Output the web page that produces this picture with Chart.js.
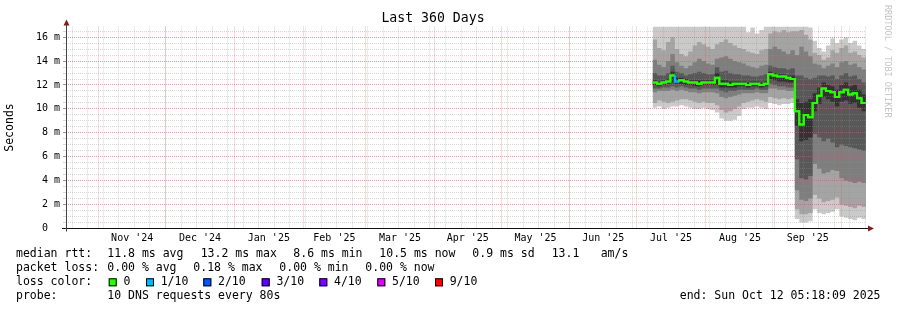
<!DOCTYPE html>
<html>
<head>
<meta charset="utf-8">
<title>Last 360 Days</title>
<script src="https://cdn.jsdelivr.net/npm/chart.js@4.4.1/dist/chart.umd.min.js"></script>
<style>
  html, body { margin: 0; padding: 0; background: #fff; }
  #wrap { position: relative; width: 897px; height: 310px; }
</style>
</head>
<body>
<div id="wrap"><canvas id="smokeChart" width="897" height="310"></canvas></div>
<script>
// x unit: days since 1 Nov 2024 00:00 (graph runs 17 Oct 2024 05:18 -> 12 Oct 2025 05:18)
const xMin = -14.78;
const xMax = 345.22;

const monthStarts = [0, 30, 61, 92, 120, 151, 181, 212, 242, 273, 304, 334];
const monthMids = [15, 45.5, 76.5, 106, 135.5, 166, 196.5, 227, 257.5, 288.5, 319];
const monthLabels = ["Nov '24", "Dec '24", "Jan '25", "Feb '25", "Mar '25", "Apr '25",
                     "May '25", "Jun '25", "Jul '25", "Aug '25", "Sep '25"];

const yMax = 16.89;
const yTickValues = [0, 2, 4, 6, 8, 10, 12, 14, 16];
const yTickLabels = ['0  ', '2 m', '4 m', '6 m', '8 m', '10 m', '12 m', '14 m', '16 m'];

// sample times (2-day steps)
const days = [249.2, 251.2, 253.2, 255.2, 257.2, 259.2, 261.2, 263.2, 265.2, 267.2,
              269.2, 271.2, 273.2, 275.2, 277.2, 279.2, 281.2, 283.2, 285.2, 287.2,
              289.2, 291.2, 293.2, 295.2, 297.2, 299.2, 301.2, 303.2, 305.2, 307.2,
              309.2, 311.2, 313.2, 315.2, 317.2, 319.2, 321.2, 323.2, 325.2, 327.2,
              329.2, 331.2, 333.2, 335.2, 337.2, 339.2, 341.2, 343.2, 345.2];

// sorted ping times in ms (10 pings per step), lowest .. highest
const pingMin = [10.0, 10.1, 10.2, 10.0, 10.1, 10.2, 10.2, 10.3, 10.2, 10.1, 10.0, 10.0, 10.1, 10.0, 9.9, 9.7, 9.2,
                 9.0, 9.0, 9.1, 9.4, 10.0, 10.1, 10.1, 10.2, 10.1, 10.0, 10.5, 10.4, 10.3, 10.4, 10.4, 10.5,
                 0.8, 0.5, 0.5, 0.6, 1.6, 1.3, 1.2, 1.3, 1.4, 1.6, 1.0, 0.9, 0.8, 0.7, 0.9, 0.8];
const ping2 = [10.4, 10.5, 10.7, 10.6, 10.5, 10.6, 10.7, 10.8, 10.8, 10.7, 10.6, 10.5, 10.6, 10.5, 10.5, 10.3, 9.9,
               9.7, 9.8, 10.0, 10.2, 10.5, 10.6, 10.7, 10.8, 10.7, 10.6, 11.0, 10.9, 10.8, 10.9, 10.8, 10.9,
               1.6, 1.2, 1.2, 1.3, 2.8, 2.5, 2.2, 2.3, 2.4, 2.6, 2.0, 1.9, 1.8, 1.7, 1.9, 1.8];
const ping3 = [11.5, 11.4, 11.5, 11.5, 11.5, 11.6, 11.5, 11.6, 11.5, 11.4, 11.4, 11.3, 11.4, 11.4, 11.4, 11.3, 11.0,
               10.9, 11.0, 11.1, 11.2, 11.3, 11.3, 11.3, 11.4, 11.3, 11.3, 11.7, 11.7, 11.6, 11.6, 11.5, 11.5,
               3.2, 2.4, 2.3, 2.5, 5.4, 5.0, 4.6, 4.7, 4.9, 4.8, 4.2, 4.0, 3.9, 3.8, 3.9, 3.8];
const ping4 = [11.8, 11.7, 11.7, 11.8, 11.8, 11.9, 11.8, 11.9, 11.8, 11.7, 11.7, 11.6, 11.7, 11.7, 11.7, 11.7, 11.5,
               11.4, 11.5, 11.5, 11.6, 11.6, 11.6, 11.6, 11.7, 11.6, 11.6, 12.1, 12.0, 11.9, 11.9, 11.8, 11.8,
               5.8, 4.2, 4.1, 4.4, 7.9, 7.6, 7.3, 7.5, 7.2, 6.8, 7.0, 6.9, 6.8, 6.7, 6.6, 6.5];
const ping5 = [12.0, 12.0, 11.9, 12.0, 12.1, 12.2, 12.1, 12.1, 12.0, 12.0, 11.9, 11.9, 12.0, 12.0, 12.0, 12.0, 11.8,
               11.8, 11.8, 11.8, 11.9, 11.9, 11.8, 11.9, 11.9, 11.8, 11.9, 12.5, 12.4, 12.3, 12.3, 12.2, 12.2,
               8.6, 7.3, 7.4, 7.6, 9.8, 10.4, 11.0, 10.8, 10.6, 10.2, 10.6, 10.7, 10.4, 10.5, 10.1, 9.8];
const ping6 = [12.4, 12.4, 12.3, 12.4, 12.5, 13.1, 12.6, 12.6, 12.5, 12.4, 12.4, 12.4, 12.4, 12.4, 12.4, 13.0, 12.4,
               12.4, 12.3, 12.3, 12.3, 12.3, 12.2, 12.3, 12.3, 12.2, 12.3, 13.1, 13.0, 12.9, 12.9, 12.8, 12.8,
               10.8, 10.5, 10.6, 10.8, 11.3, 11.8, 12.2, 12.0, 11.9, 11.6, 12.0, 12.2, 11.9, 12.0, 11.6, 11.2];
const ping7 = [12.9, 13.0, 12.8, 12.8, 13.0, 13.6, 13.1, 13.0, 12.8, 12.9, 13.0, 13.1, 13.0, 12.9, 12.9, 13.5, 13.1,
               13.2, 13.0, 12.9, 12.9, 12.8, 12.8, 12.7, 12.7, 12.8, 12.9, 13.6, 13.5, 13.4, 13.4, 13.3, 13.4,
               12.8, 12.8, 12.6, 12.5, 12.6, 12.8, 12.8, 12.7, 12.8, 12.5, 12.8, 13.0, 12.7, 12.8, 12.5, 12.2];
const ping8 = [14.4, 14.1, 13.7, 13.5, 14.0, 14.6, 13.9, 13.6, 13.4, 13.6, 13.9, 14.2, 14.0, 13.8, 13.7, 14.2, 14.3,
               14.4, 14.2, 14.0, 13.9, 13.8, 13.6, 13.5, 13.4, 13.6, 13.7, 15.0, 15.2, 15.0, 14.8, 14.6, 14.9,
               14.5, 15.2, 14.8, 14.4, 13.8, 13.7, 13.4, 13.6, 13.8, 13.5, 13.9, 14.0, 13.7, 13.8, 13.5, 13.3];
const ping9 = [16.2, 15.8, 15.1, 14.9, 15.6, 16.0, 15.0, 14.6, 14.4, 14.8, 15.3, 15.6, 15.4, 15.2, 15.0, 15.4, 15.6,
               15.8, 15.5, 15.3, 15.1, 15.0, 14.8, 14.7, 14.6, 14.9, 15.0, 16.3, 16.5, 16.4, 16.6, 16.4, 16.5,
               16.5, 16.6, 16.2, 15.8, 14.7, 14.5, 14.1, 14.3, 14.9, 14.7, 15.1, 15.3, 14.7, 14.8, 14.5, 14.3];
const pingMax = [17.5, 17.5, 17.5, 17.5, 17.5, 17.5, 17.5, 17.5, 17.5, 17.5, 17.5, 17.5, 17.5, 17.5, 17.5, 17.5, 17.5,
                 17.5, 17.2, 17.5, 17.5, 17.0, 16.4, 16.8, 16.3, 16.6, 17.0, 17.5, 17.5, 17.5, 17.5, 17.5, 17.5,
                 17.5, 17.5, 17.5, 16.8, 15.7, 15.1, 14.8, 15.3, 15.9, 15.5, 15.8, 16.0, 15.5, 15.7, 15.3, 15.0];
const medianRtt = [12.2, 12.2, 12.1, 12.2, 12.3, 12.8, 12.3, 12.4, 12.3, 12.2, 12.2, 12.1, 12.2, 12.2, 12.2, 12.6, 12.1,
                   12.1, 12.0, 12.1, 12.1, 12.1, 12.0, 12.1, 12.1, 12.0, 12.1, 12.9, 12.8, 12.7, 12.7, 12.6, 12.5,
                   9.8, 8.7, 9.5, 9.3, 10.5, 11.1, 11.7, 11.5, 11.4, 11.0, 11.4, 11.6, 11.2, 11.3, 10.9, 10.5];
// lost pings out of 10 per step
const lossTenths = [0, 0, 0, 0, 0, 1, 0, 0, 0, 0, 0, 0, 0, 0, 0, 0, 0, 0, 0, 0, 0, 0, 0, 0, 0, 0, 0, 0, 0, 0, 0, 0, 0,
                    0, 0, 0, 0, 0, 0, 0, 0, 0, 0, 0, 0, 0, 0, 0, 0];

const lossSteps = [0, 1, 2, 3, 4, 5, 9];
const lossLabels = ['0', '1/10', '2/10', '3/10', '4/10', '5/10', '9/10'];
const lossColors = ['#26ff00', '#00b8ff', '#0059ff', '#5e00ff', '#7e00ff', '#dd00ff', '#ff0000'];

const rttStatNames = ['avg', 'max', 'min', 'now', 'sd'];
const rttStatValues = [11.8, 13.2, 8.6, 10.5, 0.9];
const amsValue = 13.1;
const lossStatNames = ['avg', 'max', 'min', 'now'];
const lossStatValues = [0.00, 0.18, 0.00, 0.00];
const probeText = '10 DNS requests every 80s';
const endText = 'end: Sun Oct 12 05:18:09 2025';

const mono = '"DejaVu Sans Mono", "Liberation Mono", monospace';
Chart.defaults.font.family = mono;

// smoke shades, outer (widest) band first
const bandShades = ['#cacaca', '#a4a4a4', '#7e7e7e', '#585858', '#323232'];
const bandPairs = [[pingMin, pingMax], [ping2, ping9], [ping3, ping8], [ping4, ping7], [ping5, ping6]];

function points(values) {
    return days.map((d, i) => ({ x: d, y: values[i] }));
}

const datasets = [];
bandPairs.forEach(([low, high], k) => {
    const lowIndex = datasets.length;
    datasets.push({
        data: points(low), stepped: 'after', pointRadius: 0,
        borderColor: 'rgba(0,0,0,0)', borderWidth: 0, fill: false, order: 10 - k
    });
    datasets.push({
        data: points(high), stepped: 'after', pointRadius: 0,
        borderColor: 'rgba(0,0,0,0)', borderWidth: 0,
        fill: { target: lowIndex }, backgroundColor: bandShades[k], order: 10 - k
    });
});
const medianIndex = datasets.length;
datasets.push({
    data: points(medianRtt), stepped: 'after', pointRadius: 0,
    borderColor: lossColors[0], borderWidth: 2, fill: false, order: 0,
    segment: {
        borderColor: c => lossColors[lossSteps.indexOf(lossTenths[c.p0DataIndex])]
    }
});

// grid helpers
const weekLines = [];
for (let d = -12; d <= xMax; d += 7) weekLines.push(d);   // Sundays
const halfLines = [];
for (let v = 0; v <= yMax; v += 0.5) halfLines.push(v);

const minorGrid = 'rgba(143,143,143,0.36)';
const majorGrid = 'rgba(222,79,79,0.42)';

function gridAxis(ticks, color, z, horizontal, tickLen) {
    return {
        type: 'linear',
        position: horizontal ? 'bottom' : 'left',
        min: horizontal ? xMin : 0,
        max: horizontal ? xMax : yMax,
        bounds: 'data',
        weight: 0,
        z: z,
        afterBuildTicks: s => { s.ticks = ticks.map(v => ({ value: v })); },
        afterFit: s => { if (horizontal) s.height = 0; else s.width = 0; },
        ticks: { display: false },
        border: { display: false, dash: [1, 1] },
        grid: { color: color, z: z, drawTicks: !!tickLen, tickLength: tickLen || 0, tickColor: color }
    };
}

// the grid is painted over the smoke; keep the median line above it
const medianOnTop = {
    id: 'medianOnTop',
    afterDraw(chart) {
        const a = chart.chartArea;
        const ctx = chart.ctx;
        ctx.save();
        ctx.beginPath();
        ctx.rect(a.left, a.top - 2, a.right - a.left, a.bottom - a.top + 4);
        ctx.clip();
        chart.getDatasetMeta(medianIndex).controller.draw();
        ctx.restore();
    }
};

// axis lines, arrows, watermark
const axisDecor = {
    id: 'axisDecor',
    afterDraw(chart) {
        const { ctx, chartArea: a } = chart;
        ctx.save();
        ctx.lineWidth = 1;
        ctx.strokeStyle = '#111';
        ctx.beginPath();
        ctx.moveTo(a.left - 4, a.bottom);
        ctx.lineTo(a.right + 3, a.bottom);
        ctx.stroke();
        ctx.strokeStyle = '#444';
        ctx.beginPath();
        ctx.moveTo(a.left + 0.5, a.bottom + 3);
        ctx.lineTo(a.left + 0.5, a.top - 2);
        ctx.stroke();
        ctx.fillStyle = '#801f1f';
        ctx.beginPath();
        ctx.moveTo(a.left + 0.5, a.top - 7);
        ctx.lineTo(a.left - 2.5, a.top - 1);
        ctx.lineTo(a.left + 3.5, a.top - 1);
        ctx.closePath();
        ctx.fill();
        ctx.beginPath();
        ctx.moveTo(a.right + 8, a.bottom);
        ctx.lineTo(a.right + 2, a.bottom - 3);
        ctx.lineTo(a.right + 2, a.bottom + 3);
        ctx.closePath();
        ctx.fill();

        ctx.fillStyle = '#c4c4c4';
        ctx.font = '8.5px ' + mono;
        ctx.textBaseline = 'middle';
        ctx.textAlign = 'left';
        ctx.translate(887, 5);
        ctx.rotate(Math.PI / 2);
        ctx.fillText('RRDTOOL / TOBI OETIKER', 0, 0);
        ctx.restore();
    }
};

// smokeping style legend under the graph
const smokeLegend = {
    id: 'smokeLegend',
    afterDraw(chart) {
        const ctx = chart.ctx;
        ctx.save();
        ctx.font = '11.5px ' + mono;
        ctx.fillStyle = '#000';
        ctx.textBaseline = 'middle';
        ctx.textAlign = 'left';

        const rows = [254.3, 268.3, 282.3, 296.3];
        const rttX = [107.3, 200.7, 293.3, 379.3, 472.3];
        const lossX = [107.3, 193.3, 279.3, 365.3];

        ctx.fillText('median rtt:', 16, rows[0]);
        rttStatValues.forEach((v, i) => {
            ctx.fillText(v.toFixed(1) + ' ms ' + rttStatNames[i], rttX[i], rows[0]);
        });
        ctx.fillText(amsValue.toFixed(1), 551.7, rows[0]);
        ctx.fillText('am/s', 600.7, rows[0]);

        ctx.fillText('packet loss:', 16, rows[1]);
        lossStatValues.forEach((v, i) => {
            ctx.fillText(v.toFixed(2) + ' % ' + lossStatNames[i], lossX[i], rows[1]);
        });

        ctx.fillText('loss color:', 16, rows[2]);
        const boxX = [108.7, 146, 203.3, 261.7, 319.3, 377.3, 435];
        lossLabels.forEach((lab, i) => {
            ctx.fillStyle = lossColors[i];
            ctx.fillRect(boxX[i], rows[2] - 4, 8, 8);
            ctx.strokeStyle = '#000';
            ctx.lineWidth = 1;
            ctx.strokeRect(boxX[i] + 0.5, rows[2] - 3.5, 7, 7);
            ctx.fillStyle = '#000';
            ctx.fillText(lab, boxX[i] + 14.7, rows[2]);
        });

        ctx.fillText('probe:', 16, rows[3]);
        ctx.fillText(probeText, 107.3, rows[3]);
        ctx.textAlign = 'right';
        ctx.fillText(endText, 880.5, rows[3]);
        ctx.restore();
    }
};

new Chart(document.getElementById('smokeChart').getContext('2d'), {
    type: 'line',
    data: { datasets: datasets },
    options: {
        responsive: false,
        animation: false,
        events: [],
        layout: { padding: { left: 0, right: 31, top: 0, bottom: 61.5 } },
        plugins: {
            legend: { display: false },
            tooltip: { enabled: false },
            title: {
                display: true,
                text: 'Last 360 Days',
                color: '#000',
                font: { family: mono, size: 13.2, weight: 'normal', lineHeight: 1 },
                padding: { top: 12.4, bottom: 0.9 }
            }
        },
        scales: {
            x: {
                type: 'linear', position: 'bottom', min: xMin, max: xMax, bounds: 'data', weight: 1,
                afterBuildTicks: s => { s.ticks = monthMids.map(v => ({ value: v })); },
                afterFit: s => { s.height = 20; },
                grid: { display: false, drawTicks: false },
                border: { display: false },
                ticks: {
                    autoSkip: false, maxRotation: 0, minRotation: 0, padding: 3.5,
                    color: '#000', font: { size: 10 },
                    callback: (v, i) => monthLabels[i]
                }
            },
            xWeek: gridAxis(weekLines, minorGrid, 1, true),
            xMonth: gridAxis(monthStarts, majorGrid, 2, true),
            y: {
                type: 'linear', position: 'left', min: 0, max: yMax, bounds: 'data', weight: 1, z: 2,
                afterBuildTicks: s => { s.ticks = yTickValues.map(v => ({ value: v })); },
                afterFit: s => { s.width = 66; },
                border: { display: false, dash: [1, 1] },
                grid: { color: majorGrid, z: 2, drawTicks: true, tickLength: 3, tickColor: '#999' },
                ticks: {
                    padding: 3, color: '#000', font: { size: 10 },
                    callback: (v, i) => yTickLabels[i]
                },
                title: {
                    display: true, text: 'Seconds', color: '#000',
                    font: { family: mono, size: 11.5 },
                    padding: { top: 3.4, bottom: 0 }
                }
            },
            yHalf: gridAxis(halfLines, minorGrid, 1, false, 3)
        }
    },
    plugins: [medianOnTop, axisDecor, smokeLegend]
});
</script>
</body>
</html>
